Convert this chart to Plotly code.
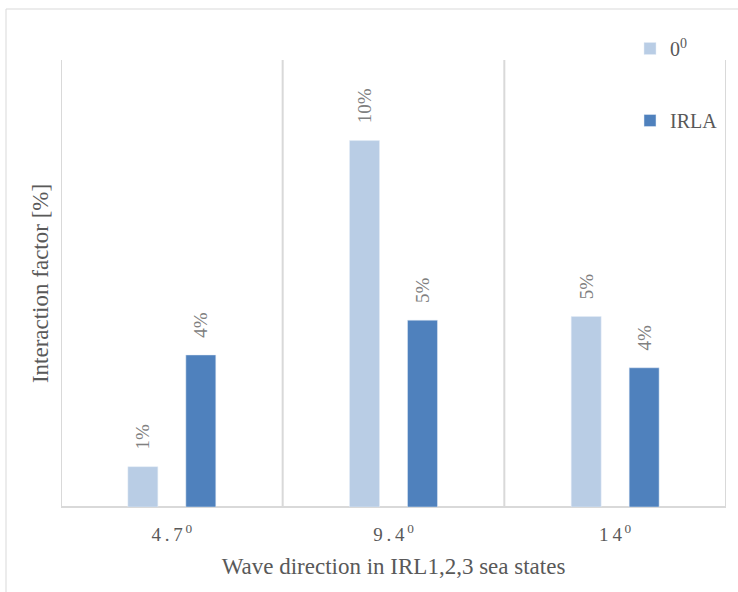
import plotly.graph_objects as go

cat_labels = ["4\u2009.\u20097<sup>\u20090</sup>", "9\u2009.\u20094<sup>\u20090</sup>", "1\u20094<sup>\u20090</sup>"]
series_names = ["0<sup>0</sup>", "IRLA"]
values_0 = [1.1, 10.0, 5.2]
values_irla = [4.15, 5.1, 3.8]
labels_0 = ["1%", "10%", "5%"]
labels_irla = ["4%", "5%", "4%"]

colors = ["#b9cde5", "#4f81bd"]
font_fam = "Liberation Serif, DejaVu Serif, serif"
pad = "\u00a0" * 3

fig = go.Figure()
for i, (name, vals, labs) in enumerate(zip(series_names, [values_0, values_irla], [labels_0, labels_irla])):
    fig.add_trace(go.Bar(
        x=cat_labels, y=vals, name=name, marker_color=colors[i],
        text=[pad + t for t in labs], textposition="outside", textangle=-90,
        constraintext="none",
        textfont=dict(family=font_fam, size=19, color="#808080"),
        cliponaxis=False, legendgroup=f"g{i}",
    ))

W, H = 738, 592
l, r, t, b = 61, 12, 60, 85
pw, ph = W - l - r, H - t - b

shapes = []
for xv in [-0.5, 0.5, 1.5, 2.5]:
    shapes.append(dict(type="line", xref="x", yref="paper", x0=xv, x1=xv, y0=0, y1=1,
                       line=dict(color="#d9d9d9", width=2), layer="below"))
shapes.append(dict(type="line", xref="paper", yref="paper", x0=0, x1=1, y0=0, y1=0,
                   line=dict(color="#d9d9d9", width=2), layer="below"))
# chart border
shapes.append(dict(type="rect", xref="paper", yref="paper",
                   x0=(6 - l) / pw, x1=(750 - l) / pw,
                   y0=(H - b - 600) / ph, y1=(H - b - 9) / ph,
                   line=dict(color="#d9d9d9", width=1), layer="below"))

fig.update_layout(
    width=W, height=H,
    margin=dict(l=l, r=r, t=t, b=b, autoexpand=False),
    paper_bgcolor="white", plot_bgcolor="white",
    barmode="group", bargap=0.477, bargroupgap=0.483,
    font=dict(family=font_fam, color="#595959"),
    showlegend=True,
    legend=dict(x=(630 - l) / pw, y=(H - b - 29) / ph, xanchor="left", yanchor="top",
                traceorder="grouped", tracegroupgap=43,
                font=dict(size=20, color="#595959", family=font_fam),
                bgcolor="rgba(0,0,0,0)", itemwidth=30),
    xaxis=dict(type="category", range=[-0.5, 2.5], showgrid=False, showline=False,
               ticks="", ticklabelstandoff=14,
               tickfont=dict(size=19, color="#595959", family=font_fam),
               title=dict(text="Wave direction in IRL1,2,3 sea states",
                          font=dict(size=23, color="#595959", family=font_fam), standoff=13)),
    yaxis=dict(range=[0, 12.2], showgrid=False, showticklabels=False, zeroline=False,
               showline=False, ticks="",
               title=dict(text="Interaction factor [%]",
                          font=dict(size=23, color="#595959", family=font_fam), standoff=4)),
    shapes=shapes,
)

fig.write_html("out.html")
